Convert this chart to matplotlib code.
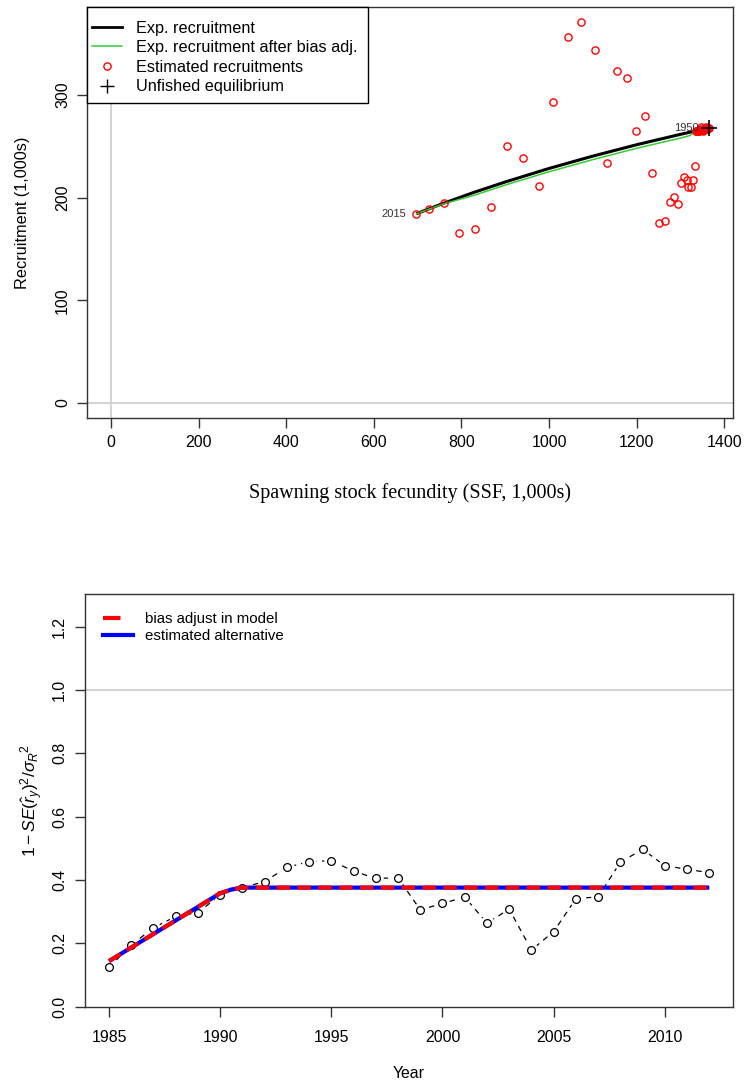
import matplotlib
matplotlib.use("Agg")
import matplotlib.pyplot as plt
from matplotlib.lines import Line2D
from matplotlib.patches import Rectangle

plt.rcParams['font.family'] = ['Liberation Sans', 'DejaVu Sans']
plt.rcParams['mathtext.fontset'] = 'custom'
plt.rcParams['mathtext.rm'] = 'Liberation Sans'
plt.rcParams['mathtext.it'] = 'Liberation Sans:italic'
plt.rcParams['mathtext.bf'] = 'Liberation Sans:bold'

# ---------------- Top panel data ----------------
# Estimated recruitments (SSF, recruitment) : 1950-1984 near equilibrium, then 1985-2015
ssf_est = [1365, 1364, 1363, 1362, 1361, 1360, 1359, 1358, 1357, 1356,
           1355, 1354, 1353, 1352, 1351, 1350, 1349, 1348, 1347, 1346,
           1345, 1344, 1343, 1342, 1341, 1340, 1339, 1338, 1337, 1336,
           1335, 1346, 1352, 1358, 1348,
           1334, 1329, 1324, 1318, 1315, 1308, 1301, 1295, 1286, 1276,
           1265, 1251, 1235, 1218, 1199, 1178, 1156, 1132, 1105, 1074,
           1044, 1010, 977, 940, 904, 867, 831, 794, 760, 727, 697]
rec_est = [267.6, 267.5, 267.4, 267.3, 267.2, 267.1, 267.0, 266.9, 266.8, 266.7,
           266.6, 266.5, 266.4, 266.3, 266.2, 266.1, 266.0, 265.9, 265.8, 265.7,
           265.6, 265.5, 265.4, 265.3, 265.2, 265.1, 265.0, 264.9, 264.8, 264.7,
           264.6, 268.5, 264.5, 268.8, 267.0,
           230.8, 216.8, 210.0, 210.6, 217.1, 220.4, 214.5, 193.8, 200.9, 195.7,
           177.5, 175.0, 224.0, 279.5, 264.9, 316.7, 323.0, 233.4, 343.7, 371.0,
           356.7, 293.4, 211.0, 238.9, 250.5, 191.1, 169.7, 165.8, 194.5, 189.2, 184.3]

# Expected recruitment curve (sorted by SSF)
curve_ssf = [697, 760, 830, 900, 1000, 1100, 1200, 1300, 1335, 1365]
exp_rec = [184.3, 194.6, 205.3, 215.2, 228.4, 240.4, 251.5, 261.6, 265.0, 267.8]
adj_ssf = [697, 727, 760, 830, 900, 1000, 1100, 1200, 1300, 1322, 1335, 1365]
adj_rec = [184.3, 188.9, 194.0, 202.4, 212.2, 225.2, 237.0, 248.0, 258.0, 260.5, 265.0, 267.8]

unfished_ssf = [1365]
unfished_rec = [267.8]

label_first = "1950"
label_last = "2015"

# ---------------- Bottom panel data ----------------
years = list(range(1985, 2013))
ratio = [0.124, 0.195, 0.249, 0.285, 0.297, 0.353, 0.376, 0.395, 0.440, 0.458,
         0.461, 0.428, 0.405, 0.407, 0.306, 0.326, 0.346, 0.264, 0.308, 0.179,
         0.237, 0.341, 0.347, 0.456, 0.497, 0.445, 0.434, 0.423]
ramp_years = [1985, 1990, 1990.5, 1991, 2012]
ramp_model = [0.144, 0.358, 0.370, 0.376, 0.376]
ramp_alt = [0.144, 0.358, 0.370, 0.376, 0.376]

W, H = 744, 1086
fig = plt.figure(figsize=(W / 100, H / 100), dpi=100)

def frac(l, r, t, b):
    return [l / W, 1 - b / H, (r - l) / W, (b - t) / H]

edge = '#333333'

# ================= Top panel =================
ax1 = fig.add_axes(frac(86.7, 733, 6.7, 418.3))
ax1.axhline(0, color='#cccccc', lw=1.2, zorder=1)
ax1.axvline(0, color='#cccccc', lw=1.2, zorder=1)
ax1.plot(curve_ssf, exp_rec, color='black', lw=2.2, zorder=3, solid_capstyle='butt')
ax1.plot(adj_ssf, adj_rec, color='#33cc33', lw=1.1, zorder=4)
ax1.plot(ssf_est, rec_est, ls='none', marker='o', ms=5.2, mfc='none', mec='red',
         mew=1.0, zorder=5)
ax1.plot(unfished_ssf, unfished_rec, ls='none', marker='+', ms=11, mec='black',
         mew=1.2, zorder=6)
ax1.annotate(label_first, (ssf_est[0], rec_est[0]), xytext=(-7, 0),
             textcoords='offset points', ha='right', va='center', fontsize=8,
             color='#333333', zorder=7)
ax1.annotate(label_last, (ssf_est[-1], rec_est[-1]), xytext=(-7, 0),
             textcoords='offset points', ha='right', va='center', fontsize=8,
             color='#333333', zorder=7)
ax1.set_xlim(-55.5, 1420)
ax1.set_ylim(-14.9, 385.9)
ax1.set_xticks([0, 200, 400, 600, 800, 1000, 1200, 1400])
ax1.set_yticks([0, 100, 200, 300])
ax1.tick_params(axis='both', direction='out', length=7, width=1, color=edge,
                labelsize=11.5, pad=5)
for lab in ax1.get_yticklabels():
    lab.set_rotation(90)
    lab.set_va('center')
for s in ax1.spines.values():
    s.set_color(edge)
    s.set_linewidth(1.0)
ax1.set_ylabel('Recruitment (1,000s)', fontsize=11.7, labelpad=18)
ax1.set_xlabel('Spawning stock fecundity (SSF, 1,000s)', fontsize=14.5,
               family=['Liberation Serif', 'DejaVu Serif'], labelpad=24)
handles1 = [Line2D([], [], color='black', lw=2.0),
            Line2D([], [], color='#33cc33', lw=1.1),
            Line2D([], [], ls='none', marker='o', ms=5.2, mfc='none', mec='red', mew=1.0),
            Line2D([], [], ls='none', marker='+', ms=10, mec='black', mew=1.0)]
# legend box (R-style, wide vertical padding)
box_w = (367.7 - 86.7) / (733 - 86.7)
box_b = (418.3 - 103.3) / (418.3 - 6.7)
ax1.add_patch(Rectangle((0, box_b), box_w, 1 - box_b, transform=ax1.transAxes,
                        facecolor='white', edgecolor='black', lw=1.0, zorder=8,
                        clip_on=False))
leg1 = ax1.legend(handles1, ['Exp. recruitment', 'Exp. recruitment after bias adj.',
                             'Estimated recruitments', 'Unfished equilibrium'],
                  loc='upper left', bbox_to_anchor=(0, 0.978), fontsize=11.7,
                  frameon=False, borderaxespad=0,
                  handlelength=1.85, handletextpad=0.9, labelspacing=0.28,
                  borderpad=0.3)
leg1.set_zorder(9)

# ================= Bottom panel =================
ax2 = fig.add_axes(frac(85, 733.3, 594.3, 1006.7))
ax2.axhline(1.0, color='#c8c8c8', lw=1.1, zorder=1)
ax2.plot(years, ratio, color='black', lw=0.9, dashes=(4.5, 4), zorder=2)
ax2.plot(years, ratio, ls='none', marker='o', ms=10.5, mfc='white', mec='none', zorder=3)
ax2.plot(years, ratio, ls='none', marker='o', ms=5.6, mfc='none', mec='black',
         mew=0.9, zorder=4)
ax2.plot(ramp_years, ramp_alt, color='blue', lw=3.0, zorder=5, solid_capstyle='butt',
         solid_joinstyle='round')
ax2.plot(ramp_years, ramp_model, color='red', lw=3.0, dashes=(3.2, 1.8), zorder=6,
         dash_capstyle='butt', dash_joinstyle='round')
ax2.set_xlim(1983.92, 2013.08)
ax2.set_ylim(0, 1.302)
ax2.set_xticks([1985, 1990, 1995, 2000, 2005, 2010])
ax2.set_yticks([0.0, 0.2, 0.4, 0.6, 0.8, 1.0, 1.2])
ax2.set_yticklabels(['0.0', '0.2', '0.4', '0.6', '0.8', '1.0', '1.2'])
ax2.tick_params(axis='x', direction='out', length=7, width=1, color=edge,
                labelsize=11.4, pad=10)
ax2.tick_params(axis='y', direction='out', length=7, width=1, color=edge,
                labelsize=11.4, pad=6)
for lab in ax2.get_yticklabels():
    lab.set_rotation(90)
    lab.set_va('center')
for s in ax2.spines.values():
    s.set_color(edge)
    s.set_linewidth(1.0)
ax2.set_xlabel('Year', fontsize=11.4, labelpad=15)
ax2.set_ylabel(r'$1-SE(\hat{r}_y)^2/{\sigma_R}^2$', fontsize=12.5, labelpad=5)
handles2 = [Line2D([], [], color='red', lw=3.0, dashes=(4.2, 10)),
            Line2D([], [], color='blue', lw=3.0)]
leg2 = ax2.legend(handles2, ['bias adjust in model', 'estimated alternative'],
                  loc='upper left', bbox_to_anchor=(0.012, 0.983), fontsize=10.8,
                  frameon=False, handlelength=2.0, handletextpad=0.75,
                  labelspacing=0.2, borderaxespad=0.3)

fig.savefig('out.png', dpi=100)
